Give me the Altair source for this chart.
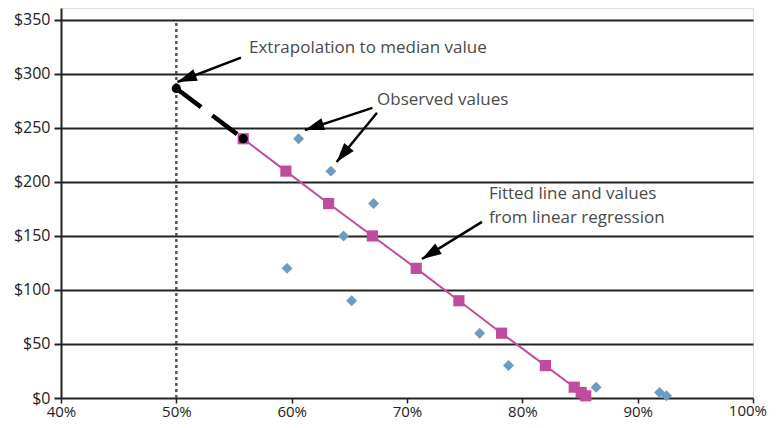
import math
import altair as alt
import pandas as pd

# ---- data ----
observed_x = [0.606, 0.634, 0.671, 0.645, 0.596, 0.652, 0.763, 0.788, 0.864, 0.919, 0.925]
observed_y = [240, 210, 180, 150, 120, 90, 60, 30, 10, 5, 2]
fitted_x = [0.558, 0.595, 0.632, 0.670, 0.708, 0.745, 0.782, 0.820, 0.845, 0.851, 0.855]
fitted_y = [240, 210, 180, 150, 120, 90, 60, 30, 10, 5, 2]
extrap_x = [0.50, 0.558]
extrap_y = [286.5, 240]
median_x = [0.50]

x_ticks = [0.4, 0.5, 0.6, 0.7, 0.8, 0.9, 1.0]
y_ticks = [0, 50, 100, 150, 200, 250, 300, 350]
last_x_label = ["100%"]

# annotations (data units)
ann_text = ["Extrapolation to median value", "Observed values",
            "Fitted line and values", "from linear regression"]
ann_tx = [0.563, 0.674, 0.771, 0.771]
ann_ty = [324, 276, 189, 166.5]
arrow_x1 = [0.556, 0.670, 0.674, 0.765]
arrow_y1 = [315, 268.5, 264, 163]
arrow_x2 = [0.501, 0.6115, 0.639, 0.713]
arrow_y2 = [292.5, 248, 218.5, 128.7]

# ---- layout ----
W, H = 692, 390
XDOM = [0.4, 1.0]
YDOM = [0, 361]
pxx = W / (XDOM[1] - XDOM[0])
pxy = H / (YDOM[1] - YDOM[0])

xs = alt.Scale(domain=XDOM, nice=False, zero=False)
ys = alt.Scale(domain=YDOM, nice=False)

FONT = "Open Sans"

obs_df = pd.DataFrame({"x": observed_x, "y": observed_y})
fit_df = pd.DataFrame({"x": fitted_x, "y": fitted_y})
ext_df = pd.DataFrame({"x": extrap_x, "y": extrap_y})
med_df = pd.DataFrame({"x": median_x, "y": [0], "y2": [348]})
txt_df = pd.DataFrame({"x": ann_tx, "y": ann_ty, "t": ann_text})
last_df = pd.DataFrame({"x": [x_ticks[-1]], "y": [0], "t": last_x_label})

angles = []
for a, b, c, d in zip(arrow_x1, arrow_y1, arrow_x2, arrow_y2):
    dx = (c - a) * pxx
    dy = -(d - b) * pxy
    ang = math.degrees(math.atan2(dx, -dy)) % 360
    angles.append(ang)
arr_df = pd.DataFrame({"x": arrow_x1, "y": arrow_y1, "x2": arrow_x2, "y2": arrow_y2, "ang": angles})

xaxis = alt.Axis(values=x_ticks, format=".0%", grid=False, domain=False,
                 tickSize=5, tickColor="#222", tickWidth=1.5,
                 labelFont=FONT, labelFontSize=15, labelColor="#222", labelPadding=1,
                 labelFlush=False, labelOverlap=False, title=None,
                 labelExpr="datum.value >= 0.999 ? '' : datum.label")
yaxis = alt.Axis(values=y_ticks, format="$.0f", grid=True, gridColor="#222", gridWidth=2,
                 domain=True, domainColor="#222", domainWidth=2,
                 tickSize=7, tickColor="#222", tickWidth=2,
                 labelFont=FONT, labelFontSize=16, labelColor="#222", labelPadding=4,
                 labelFlush=False, labelOverlap=False, title=None)

median_rule = alt.Chart(med_df).mark_rule(color="#555", strokeWidth=2.5, strokeDash=[3, 3]).encode(
    x=alt.X("x:Q", scale=xs, axis=xaxis),
    y=alt.Y("y:Q", scale=ys, axis=yaxis),
    y2="y2:Q",
)

fit_line = alt.Chart(fit_df).mark_line(color="#c04c9e", strokeWidth=2).encode(
    x=alt.X("x:Q", scale=xs), y=alt.Y("y:Q", scale=ys))

ext_line = alt.Chart(ext_df).mark_line(color="#000", strokeWidth=4.5, strokeDash=[31, 14]).encode(
    x=alt.X("x:Q", scale=xs), y=alt.Y("y:Q", scale=ys))

obs_pts = alt.Chart(obs_df).mark_point(shape="diamond", filled=True, color="#6f9bc0", size=120, opacity=1).encode(
    x=alt.X("x:Q", scale=xs), y=alt.Y("y:Q", scale=ys))

fit_pts = alt.Chart(fit_df).mark_point(shape="square", filled=True, color="#c04c9e", size=125, opacity=1).encode(
    x=alt.X("x:Q", scale=xs), y=alt.Y("y:Q", scale=ys))

ext_pts = alt.Chart(ext_df).mark_point(shape="circle", filled=True, color="#000", size=85, opacity=1).encode(
    x=alt.X("x:Q", scale=xs), y=alt.Y("y:Q", scale=ys))

arrow_shaft = alt.Chart(arr_df).mark_rule(color="#000", strokeWidth=2.5).encode(
    x=alt.X("x:Q", scale=xs), y=alt.Y("y:Q", scale=ys), x2="x2:Q", y2="y2:Q")

arrow_head = alt.Chart(arr_df).mark_point(shape="M0,0L-0.32,1L0.32,1Z", filled=True, color="#000",
                                          size=1500, opacity=1).encode(
    x=alt.X("x2:Q", scale=xs), y=alt.Y("y2:Q", scale=ys),
    angle=alt.Angle("ang:Q", scale=None))

texts = alt.Chart(txt_df).mark_text(align="left", baseline="middle", font=FONT, fontSize=17,
                                    color="#4a4a4a").encode(
    x=alt.X("x:Q", scale=xs), y=alt.Y("y:Q", scale=ys), text="t:N")

last_label = alt.Chart(last_df).mark_text(align="right", baseline="top", font=FONT, fontSize=15,
                                          color="#222", dx=14, dy=6).encode(
    x=alt.X("x:Q", scale=xs), y=alt.Y("y:Q", scale=ys), text="t:N")

chart = alt.layer(median_rule, fit_line, ext_line, obs_pts, fit_pts, ext_pts,
                  arrow_shaft, arrow_head, texts, last_label).properties(
    width=W, height=H,
    autosize=alt.AutoSizeParams(type="none"),
    padding={"left": 53, "top": 0, "right": 15, "bottom": 21},
).configure_view(stroke=None).configure(background="white")

chart.save("out.html", embed_options={"renderer": "svg", "actions": False})
